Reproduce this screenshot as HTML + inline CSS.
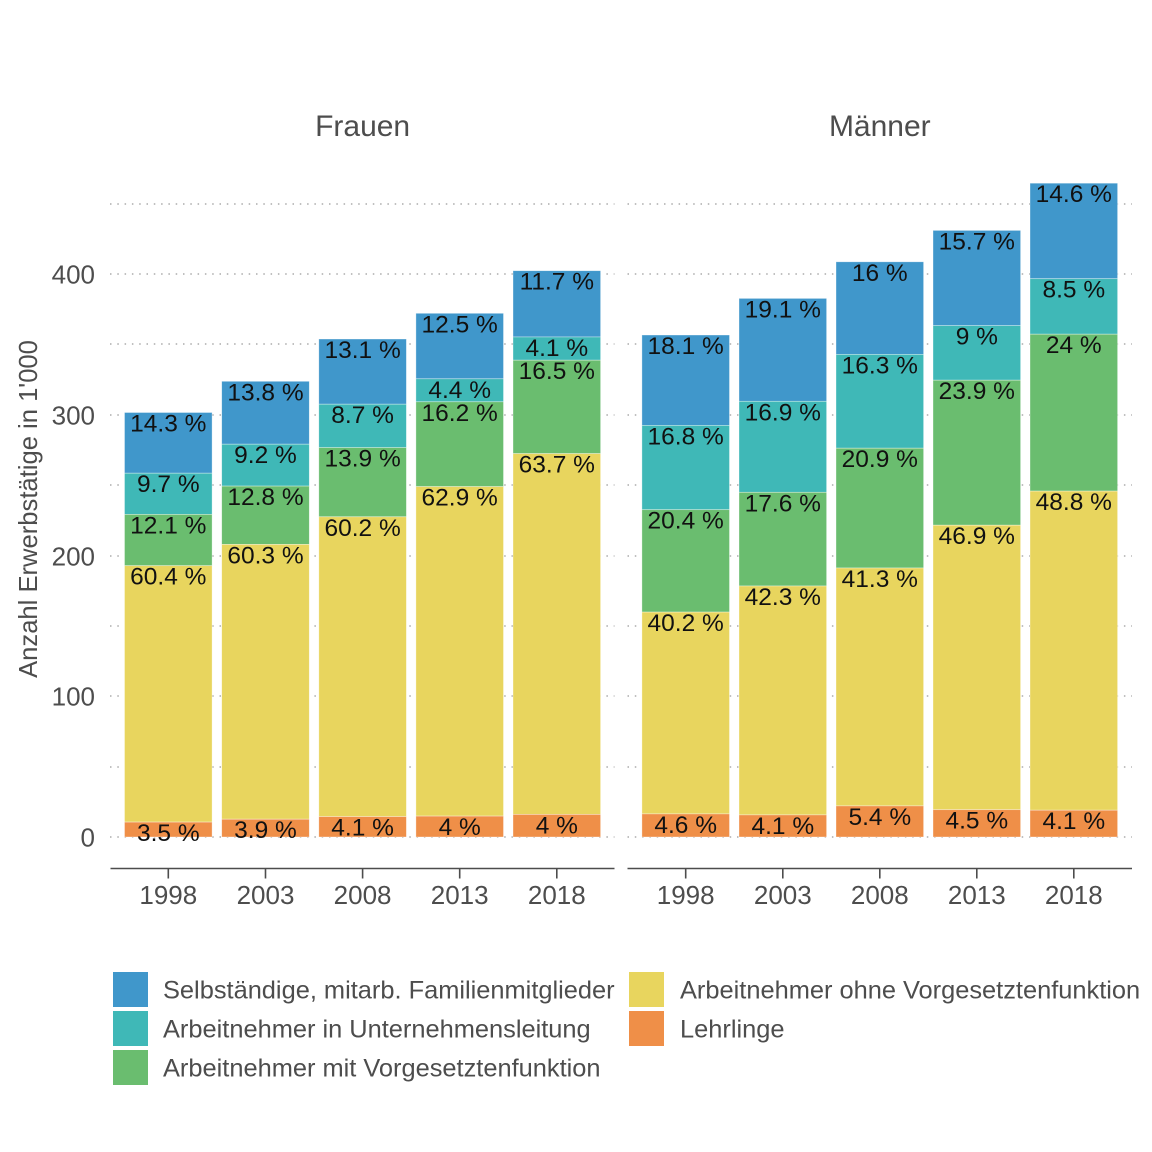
<!DOCTYPE html>
<html><head><meta charset="utf-8"><style>
html,body{margin:0;padding:0;background:#fff;}
svg{display:block;}
</style></head><body>
<svg width="1152" height="1152" viewBox="0 0 1152 1152" xmlns="http://www.w3.org/2000/svg" font-family="'Liberation Sans', Arial, sans-serif">
<rect width="1152" height="1152" fill="#fff"/>
<g stroke="#ababab" stroke-width="1.5" stroke-dasharray="1.5 5.8" fill="none">
<path d="M110 837H614.5M110 767H614.5M110 696H614.5M110 626H614.5M110 556H614.5M110 485H614.5M110 415H614.5M110 344H614.5M110 274H614.5M110 204H614.5"/>
<path d="M627.5 837H1132M627.5 767H1132M627.5 696H1132M627.5 626H1132M627.5 556H1132M627.5 485H1132M627.5 415H1132M627.5 344H1132M627.5 274H1132M627.5 204H1132"/>
</g>
<g stroke="#ffffff" stroke-opacity="0.5" stroke-width="0.7">
<!-- Frauen 1998 -->
<rect x="124.5" y="412.5" width="87.6" height="60.7" fill="#4097CB"/>
<rect x="124.5" y="473.2" width="87.6" height="41.2" fill="#3FB8B7"/>
<rect x="124.5" y="514.4" width="87.6" height="51.3" fill="#6ABD6F"/>
<rect x="124.5" y="565.7" width="87.6" height="256.4" fill="#E8D55E"/>
<rect x="124.5" y="822.1" width="87.6" height="14.9" fill="#EF8F48"/>
<!-- Frauen 2003 -->
<rect x="221.7" y="381.3" width="87.6" height="62.9" fill="#4097CB"/>
<rect x="221.7" y="444.2" width="87.6" height="41.9" fill="#3FB8B7"/>
<rect x="221.7" y="486.1" width="87.6" height="58.3" fill="#6ABD6F"/>
<rect x="221.7" y="544.4" width="87.6" height="274.8" fill="#E8D55E"/>
<rect x="221.7" y="819.2" width="87.6" height="17.8" fill="#EF8F48"/>
<!-- Frauen 2008 -->
<rect x="318.8" y="339" width="87.6" height="65.2" fill="#4097CB"/>
<rect x="318.8" y="404.2" width="87.6" height="43.4" fill="#3FB8B7"/>
<rect x="318.8" y="447.6" width="87.6" height="69.2" fill="#6ABD6F"/>
<rect x="318.8" y="516.8" width="87.6" height="299.8" fill="#E8D55E"/>
<rect x="318.8" y="816.6" width="87.6" height="20.4" fill="#EF8F48"/>
<!-- Frauen 2013 -->
<rect x="415.9" y="313.3" width="87.6" height="65.5" fill="#4097CB"/>
<rect x="415.9" y="378.8" width="87.6" height="23" fill="#3FB8B7"/>
<rect x="415.9" y="401.8" width="87.6" height="84.8" fill="#6ABD6F"/>
<rect x="415.9" y="486.6" width="87.6" height="329.5" fill="#E8D55E"/>
<rect x="415.9" y="816.1" width="87.6" height="20.9" fill="#EF8F48"/>
<!-- Frauen 2018 -->
<rect x="513" y="270.7" width="87.6" height="66.3" fill="#4097CB"/>
<rect x="513" y="337" width="87.6" height="23.2" fill="#3FB8B7"/>
<rect x="513" y="360.2" width="87.6" height="93.4" fill="#6ABD6F"/>
<rect x="513" y="453.6" width="87.6" height="360.8" fill="#E8D55E"/>
<rect x="513" y="814.4" width="87.6" height="22.6" fill="#EF8F48"/>
<!-- Maenner 1998 -->
<rect x="641.9" y="335" width="87.6" height="90.4" fill="#4097CB"/>
<rect x="641.9" y="425.4" width="87.6" height="84.3" fill="#3FB8B7"/>
<rect x="641.9" y="509.7" width="87.6" height="102.4" fill="#6ABD6F"/>
<rect x="641.9" y="612.1" width="87.6" height="201.8" fill="#E8D55E"/>
<rect x="641.9" y="813.9" width="87.6" height="23.1" fill="#EF8F48"/>
<!-- Maenner 2003 -->
<rect x="739" y="298.4" width="87.6" height="102.9" fill="#4097CB"/>
<rect x="739" y="401.3" width="87.6" height="91" fill="#3FB8B7"/>
<rect x="739" y="492.3" width="87.6" height="93.7" fill="#6ABD6F"/>
<rect x="739" y="586" width="87.6" height="228.9" fill="#E8D55E"/>
<rect x="739" y="814.9" width="87.6" height="22.1" fill="#EF8F48"/>
<!-- Maenner 2008 -->
<rect x="836" y="261.8" width="87.6" height="92.6" fill="#4097CB"/>
<rect x="836" y="354.4" width="87.6" height="93.8" fill="#3FB8B7"/>
<rect x="836" y="448.2" width="87.6" height="119.8" fill="#6ABD6F"/>
<rect x="836" y="568" width="87.6" height="237.9" fill="#E8D55E"/>
<rect x="836" y="805.9" width="87.6" height="31.1" fill="#EF8F48"/>
<!-- Maenner 2013 -->
<rect x="933" y="230.4" width="87.6" height="95.2" fill="#4097CB"/>
<rect x="933" y="325.6" width="87.6" height="54.6" fill="#3FB8B7"/>
<rect x="933" y="380.2" width="87.6" height="145" fill="#6ABD6F"/>
<rect x="933" y="525.2" width="87.6" height="284.5" fill="#E8D55E"/>
<rect x="933" y="809.7" width="87.6" height="27.3" fill="#EF8F48"/>
<!-- Maenner 2018 -->
<rect x="1030" y="183.2" width="87.6" height="95.5" fill="#4097CB"/>
<rect x="1030" y="278.7" width="87.6" height="55.5" fill="#3FB8B7"/>
<rect x="1030" y="334.2" width="87.6" height="156.9" fill="#6ABD6F"/>
<rect x="1030" y="491.1" width="87.6" height="319.1" fill="#E8D55E"/>
<rect x="1030" y="810.2" width="87.6" height="26.8" fill="#EF8F48"/>
</g>
<g font-size="24.5" fill="#111" text-anchor="middle">
<text x="168.3" y="431.5">14.3 %</text>
<text x="168.3" y="492.2">9.7 %</text>
<text x="168.3" y="533.4">12.1 %</text>
<text x="168.3" y="584.7">60.4 %</text>
<text x="168.3" y="841.1">3.5 %</text>

<text x="265.5" y="400.3">13.8 %</text>
<text x="265.5" y="463.2">9.2 %</text>
<text x="265.5" y="505.1">12.8 %</text>
<text x="265.5" y="563.4">60.3 %</text>
<text x="265.5" y="838.2">3.9 %</text>

<text x="362.6" y="358">13.1 %</text>
<text x="362.6" y="423.2">8.7 %</text>
<text x="362.6" y="466.6">13.9 %</text>
<text x="362.6" y="535.8">60.2 %</text>
<text x="362.6" y="835.6">4.1 %</text>

<text x="459.7" y="332.3">12.5 %</text>
<text x="459.7" y="397.8">4.4 %</text>
<text x="459.7" y="420.8">16.2 %</text>
<text x="459.7" y="505.6">62.9 %</text>
<text x="459.7" y="835.1">4 %</text>

<text x="556.8" y="289.7">11.7 %</text>
<text x="556.8" y="356">4.1 %</text>
<text x="556.8" y="379.2">16.5 %</text>
<text x="556.8" y="472.6">63.7 %</text>
<text x="556.8" y="833.4">4 %</text>

<text x="685.7" y="354">18.1 %</text>
<text x="685.7" y="444.4">16.8 %</text>
<text x="685.7" y="528.7">20.4 %</text>
<text x="685.7" y="631.1">40.2 %</text>
<text x="685.7" y="832.9">4.6 %</text>

<text x="782.8" y="317.4">19.1 %</text>
<text x="782.8" y="420.3">16.9 %</text>
<text x="782.8" y="511.3">17.6 %</text>
<text x="782.8" y="605">42.3 %</text>
<text x="782.8" y="833.9">4.1 %</text>

<text x="879.8" y="280.8">16 %</text>
<text x="879.8" y="373.4">16.3 %</text>
<text x="879.8" y="467.2">20.9 %</text>
<text x="879.8" y="587">41.3 %</text>
<text x="879.8" y="824.9">5.4 %</text>

<text x="976.8" y="249.4">15.7 %</text>
<text x="976.8" y="344.6">9 %</text>
<text x="976.8" y="399.2">23.9 %</text>
<text x="976.8" y="544.2">46.9 %</text>
<text x="976.8" y="828.7">4.5 %</text>

<text x="1073.8" y="202.2">14.6 %</text>
<text x="1073.8" y="297.7">8.5 %</text>
<text x="1073.8" y="353.2">24 %</text>
<text x="1073.8" y="510.1">48.8 %</text>
<text x="1073.8" y="829.2">4.1 %</text>
</g>
<!-- x axes -->
<g stroke="#4d4d4d" stroke-width="1.6" fill="none">
<path d="M110.5 868.5H614.5M627.5 868.5H1132"/>
<path d="M168.3 868.5V878.5M265.5 868.5V878.5M362.6 868.5V878.5M459.7 868.5V878.5M556.8 868.5V878.5"/>
<path d="M685.7 868.5V878.5M782.8 868.5V878.5M879.8 868.5V878.5M976.8 868.5V878.5M1073.8 868.5V878.5"/>
</g>
<g font-size="26" fill="#4d4d4d" text-anchor="middle">
<text x="168.3" y="904">1998</text>
<text x="265.5" y="904">2003</text>
<text x="362.6" y="904">2008</text>
<text x="459.7" y="904">2013</text>
<text x="556.8" y="904">2018</text>
<text x="685.7" y="904">1998</text>
<text x="782.8" y="904">2003</text>
<text x="879.8" y="904">2008</text>
<text x="976.8" y="904">2013</text>
<text x="1073.8" y="904">2018</text>
</g>
<g font-size="26" fill="#4d4d4d" text-anchor="end">
<text x="95" y="846.5">0</text>
<text x="95" y="705.5">100</text>
<text x="95" y="565.5">200</text>
<text x="95" y="424.5">300</text>
<text x="95" y="283.5">400</text>
</g>
<text transform="translate(37,509) rotate(-90)" font-size="25.6" fill="#4d4d4d" text-anchor="middle">Anzahl Erwerbstätige in 1'000</text>
<g font-size="30" fill="#4d4d4d" text-anchor="middle">
<text x="362.6" y="136">Frauen</text>
<text x="879.8" y="136">Männer</text>
</g>
<!-- legend -->
<rect x="113" y="972" width="35" height="35" fill="#4097CB"/>
<rect x="113" y="1011" width="35" height="35" fill="#3FB8B7"/>
<rect x="113" y="1050" width="35" height="35" fill="#6ABD6F"/>
<rect x="629" y="972" width="35" height="35" fill="#E8D55E"/>
<rect x="629" y="1011" width="35" height="35" fill="#EF8F48"/>
<g font-size="25.4" fill="#4d4d4d">
<text x="163" y="998.5">Selbständige, mitarb. Familienmitglieder</text>
<text x="163" y="1037.5">Arbeitnehmer in Unternehmensleitung</text>
<text x="163" y="1076.5">Arbeitnehmer mit Vorgesetztenfunktion</text>
<text x="680" y="998.5">Arbeitnehmer ohne Vorgesetztenfunktion</text>
<text x="680" y="1037.5">Lehrlinge</text>
</g>
</svg>
</body></html>
